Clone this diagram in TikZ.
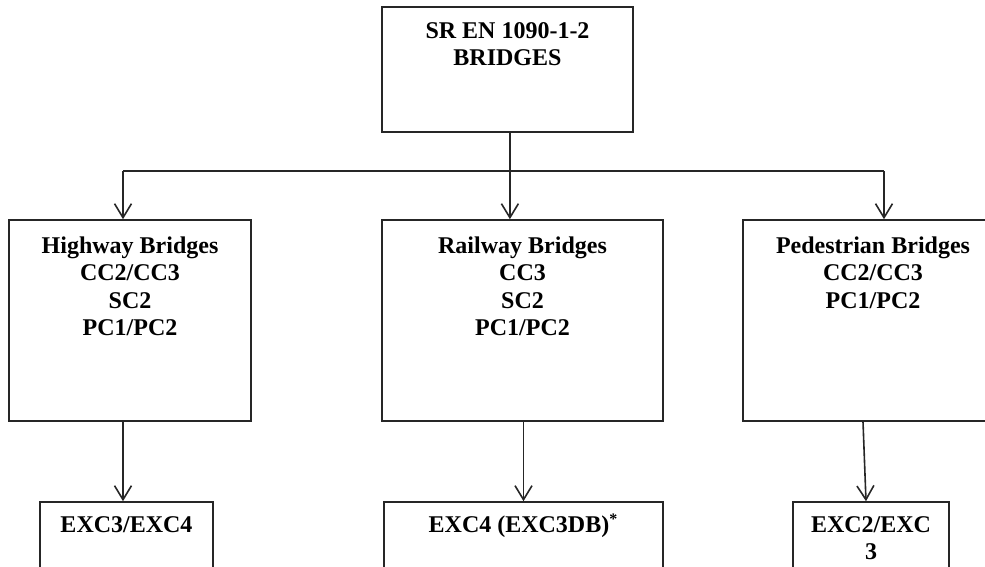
\documentclass[tikz,border=0pt]{standalone}
\usepackage{fontspec}
\setmainfont{Liberation Serif}
\usepackage{xcolor}
\usetikzlibrary{arrows.meta,positioning,calc}

\begin{document}
\begin{tikzpicture}[x=0.5pt,y=-0.5pt,
        box/.style={draw=black!85, line width=0.8pt, minimum height=100.5pt, inner sep=0pt},
        lbl/.style={font=\fontsize{12}{13.7}\selectfont\bfseries, align=center, inner sep=0pt},
        arr/.style={draw=black!85, line width=0.8pt, -{Straight Barb[length=7pt,width=8.5pt]}}]
    \useasboundingbox (0,0) rectangle (985,567);
    \node[box, minimum width=125.5pt, minimum height=62.5pt] (std) at (507.5,69.5) {};
    \node[lbl, below=8pt of std.north] (std-t) {SR EN 1090-1-2\\BRIDGES};
    \node[box, minimum width=121pt] (hw) at (130,320.5) {};
    \node[box, minimum width=140.5pt] (rw) at (522.5,320.5) {};
    \node[box, minimum width=130pt] (pb) at (873,320.5) {};
    \node[lbl, below=8.5pt of hw.north] (hw-t) {Highway Bridges\\CC2/CC3\\SC2\\PC1/PC2};
    \node[lbl, below=8.5pt of rw.north] (rw-t) {Railway Bridges\\CC3\\SC2\\PC1/PC2};
    \node[lbl, below=8.5pt of pb.north] (pb-t) {Pedestrian Bridges\\CC2/CC3\\PC1/PC2};
    \node[box, minimum width=86.5pt, minimum height=44pt] (hx) at (126.5,546) {};
    \node[box, minimum width=139.5pt, minimum height=44pt] (rx) at (523.5,546) {};
    \node[box, minimum width=78pt, minimum height=44pt] (px) at (871,546) {};
    \node[lbl, below=7.5pt of hx.north] (hx-t) {EXC3/EXC4};
    \node[lbl, below=6pt of rx.north] (rx-t) {EXC4 (EXC3DB)\textsuperscript{*}};
    \node[lbl, below=7.5pt of px.north] (px-t) {EXC2/EXC\\3};
    \coordinate (busL) at (123,171);
    \coordinate (busR) at (884,171);
    \draw[draw=black!85, line width=0.8pt] (busL) -- (busR);
    \draw[arr] ([xshift=1.2pt]std.south) -- ([xshift=1.2pt]std.south |- rw.north);
    \draw[arr] (busL) -- (busL |- hw.north);
    \draw[arr] (busR) -- (busR |- pb.north);
    \draw[arr] (busL |- hw.south) -- (busL |- hx.north);
    \draw[arr] (rx.north |- rw.south) -- (rx.north);
    \draw[arr] ([xshift=-4pt]px.north |- pb.south) -- ([xshift=-2.5pt]px.north);
\end{tikzpicture}
\end{document}
